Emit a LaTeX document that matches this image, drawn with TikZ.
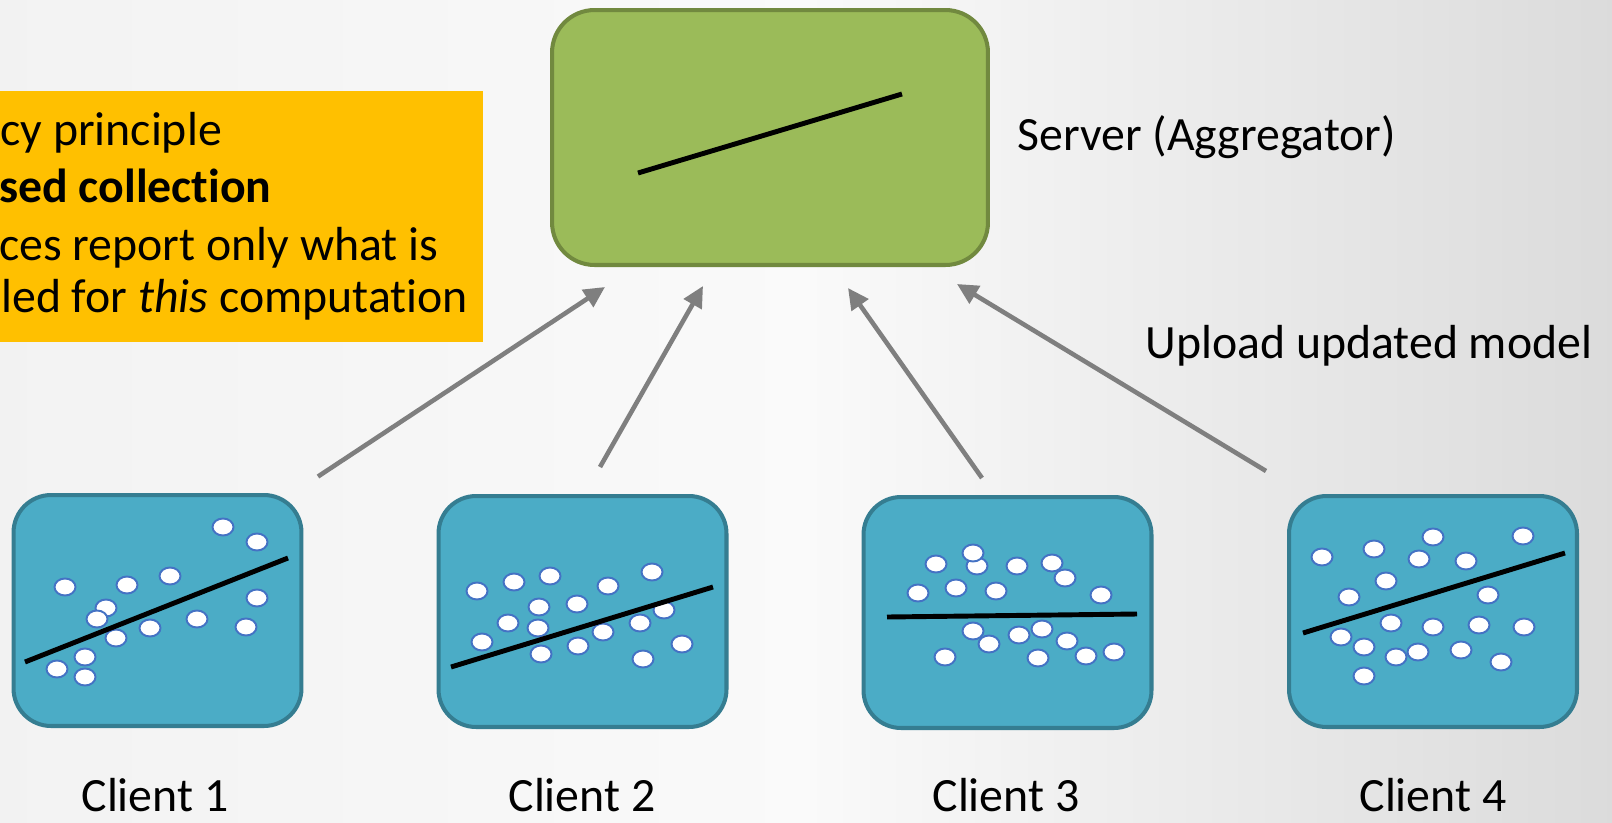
\documentclass[tikz,border=0pt]{standalone}
\usepackage{fontspec}
\setmainfont{Carlito}[Ligatures={NoCommon}]
\usetikzlibrary{arrows.meta}

\definecolor{srvgreen}{HTML}{9BBB59}
\definecolor{srvedge}{HTML}{71893F}
\definecolor{clientblue}{HTML}{4BACC6}
\definecolor{clientedge}{HTML}{357D91}
\definecolor{notegold}{HTML}{FFC000}
\definecolor{dotedge}{HTML}{4472C4}
\definecolor{arrgray}{HTML}{7F7F7F}

\begin{document}
\begin{tikzpicture}[x=0.02cm, y=-0.02cm,
    srv/.style={draw=srvedge, line width=2.3pt, fill=srvgreen, rounded corners=0.85cm,
                minimum width=8.72cm, minimum height=5.1cm},
    client/.style={draw=clientedge, line width=2.3pt, fill=clientblue, rounded corners=0.75cm,
                minimum width=5.76cm, minimum height=4.62cm},
    fitline/.style={line width=2.8pt, black},
    pt/.style={draw=dotedge, line width=1.1pt, fill=white},
    arr/.style={-{Triangle[length=0.42cm, width=0.4cm]}, line width=2.6pt, arrgray},
    lbl/.style={font=\fontsize{27.2}{32}\selectfont, inner sep=0pt},
  ]
    \useasboundingbox (0,0) rectangle (1612,822);
    \shade[left color=black!5, right color=black!14, middle color=black!2]
      (0,0) rectangle (1612,822);

    % Note box (cut at the left edge)
    \node[fill=notegold, minimum width=9.66cm, minimum height=5.02cm,
          anchor=north west, inner sep=0pt] (note) at (0,91) {};
    \node[lbl, anchor=base west] (n1) at (0,145)  {cy principle};
    \node[lbl, anchor=base west] (n2) at (-1,202) {\textbf{sed collection}};
    \node[lbl, anchor=base west] (n3) at (-1,260) {ces report only what is};
    \node[lbl, anchor=base west] (n4) at (1,312)  {led for \textit{this} computation};

    % Server and clients
    \node[srv]    (srv) at (770,137.5) {};
    \node[client] (c1)  at (157.5,610.5) {};
    \node[client] (c2)  at (582.5,611.5) {};
    \node[client] (c3)  at (1007.5,612.5) {};
    \node[client] (c4)  at (1433,611.5) {};

    % Data points
    \foreach \x/\y in {223/527, 257/542, 65/587, 127/585, 170/576, 106/608, 97/619,
                       257/598, 197/619, 246/627, 150/628, 116/638, 85/657, 57/669, 85/677}
      \draw[pt] (\x,\y) ellipse [x radius=0.21cm, y radius=0.17cm];
    \foreach \x/\y in {477/591, 514/582, 550/576, 608/586, 652/572, 539/607, 577/604,
                       508/623, 538/628, 664/610, 640/623, 603/632, 482/642, 578/646,
                       541/654, 682/644, 643/659}
      \draw[pt] (\x,\y) ellipse [x radius=0.21cm, y radius=0.17cm];
    \foreach \x/\y in {936/564, 977/566, 973/553, 1017/566, 1052/563, 1065/578, 918/593,
                       956/588, 996/591, 1101/595, 973/631, 989/644, 1019/635, 1042/629,
                       1067/641, 945/657, 1038/658, 1086/656, 1114/652}
      \draw[pt] (\x,\y) ellipse [x radius=0.21cm, y radius=0.17cm];
    \foreach \x/\y in {1322/557, 1374/549, 1433/537, 1523/536, 1419/559, 1466/561,
                       1386/581, 1349/597, 1488/595, 1391/623, 1433/627, 1479/625,
                       1524/627, 1341/637, 1364/647, 1396/657, 1418/652, 1461/650,
                       1501/662, 1364/676}
      \draw[pt] (\x,\y) ellipse [x radius=0.21cm, y radius=0.17cm];

    % Fitted models
    \draw[fitline] (638,173) -- (902,94);
    \draw[fitline] (25,662) -- (288,558);
    \draw[fitline] (451,667) -- (713,587);
    \draw[fitline] (887,617) -- (1137,614);
    \draw[fitline] (1303,633) -- (1565,553);

    % Uploads
    \draw[arr] ([shift={(14.5,-16.5)}]c1.north east) -- ([shift={(55,20)}]srv.south west);
    \draw[arr] ([shift={(17.5,-27)}]c2.north) -- ([shift={(-67,19)}]srv.south);
    \draw[arr] ([shift={(-25.5,-17)}]c3.north) -- ([shift={(78,21)}]srv.south);
    \draw[arr] ([shift={(-21,-23)}]c4.north west) -- ([shift={(-33,17)}]srv.south east);

    % Labels
    \node[lbl, anchor=base west] (srvlbl) at (1017,150) {Server (Aggregator)};
    \node[lbl, anchor=base west] (uplbl)  at (1145,358) {Upload updated model};
    \node[lbl, anchor=base] (l1) at (155,811)  {Client 1};
    \node[lbl, anchor=base] (l2) at (582,811)  {Client 2};
    \node[lbl, anchor=base] (l3) at (1006,811) {Client 3};
    \node[lbl, anchor=base] (l4) at (1433,811) {Client 4};
\end{tikzpicture}
\end{document}
